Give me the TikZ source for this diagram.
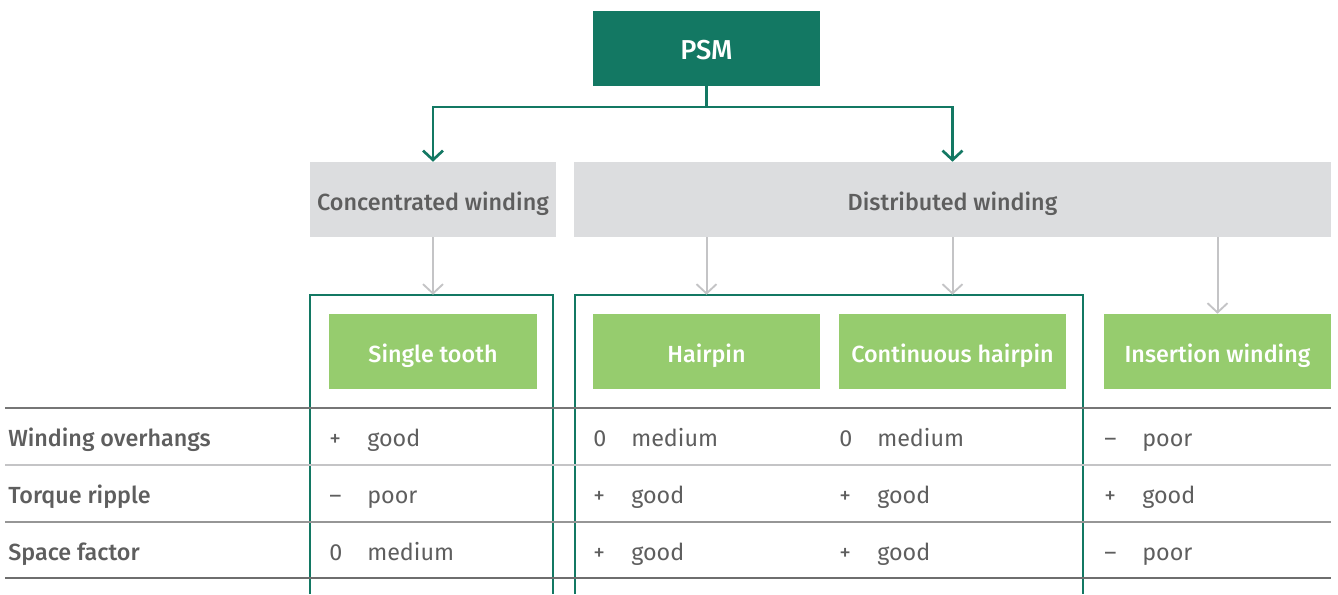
\documentclass[tikz,border=0pt]{standalone}
\usepackage{fontspec}
\setmainfont{Fira Sans}[BoldFont={Fira Sans Medium}]
\usetikzlibrary{arrows.meta}
\definecolor{dkgreen}{RGB}{19,120,99}
\definecolor{ltgreen}{RGB}{150,204,110}
\definecolor{boxgray}{RGB}{220,221,223}
\definecolor{txtgray}{RGB}{94,94,94}
\definecolor{arrgray}{RGB}{196,196,198}
\begin{document}
\begin{tikzpicture}[x=0.75pt,y=-0.75pt,font=\fontsize{17.5}{20}\selectfont,
	every node/.style={inner sep=0pt},
	top/.style={fill=dkgreen,text=white,font=\fontsize{20.5}{24}\selectfont\bfseries,minimum width=170.25pt,minimum height=56.25pt,text height=16pt,text depth=0pt},
	group/.style={fill=boxgray,text=txtgray,font=\fontsize{17.5}{20}\selectfont\bfseries,minimum height=56.25pt,text height=16pt,text depth=0pt},
	kind/.style={fill=ltgreen,text=white,font=\fontsize{17.5}{20}\selectfont\bfseries,minimum width=170.25pt,minimum height=56.25pt,text height=16pt,text depth=0pt},
	rowlabel/.style={anchor=base west,text=txtgray,font=\fontsize{17.5}{20}\selectfont\bfseries},
	cell/.style={anchor=base west,text=txtgray},
	darrow/.style={draw=dkgreen,line width=2.2pt,-{Straight Barb[length=7pt,width=15pt,line width=2pt]}},
	garrow/.style={draw=arrgray,line width=1.5pt,-{Straight Barb[length=7pt,width=15pt,line width=1.4pt]},shorten >=14.25pt},
	frame/.style={draw=dkgreen,line width=1.5pt}]
	\useasboundingbox (0,0) rectangle (1338,594);
	\node[top] (psm) at (706.5,48.5) {PSM};
	\node[group,minimum width=184.5pt] (conc) at (433,199.5) {Concentrated winding};
	\node[group,minimum width=567.75pt] (dist) at (952.5,199.5) {Distributed winding};
	\node[kind,minimum width=156pt] (tooth) at (433,351.5) {Single tooth};
	\node[kind] (hairpin) at (706.5,351.5) {Hairpin};
	\node[kind] (conthp) at (952.5,351.5) {Continuous hairpin};
	\node[kind] (insert) at (1217.5,351.5) {Insertion winding};
	% groups around the hairpin kinds
	\draw[frame] (310,594) |- (553,295) -- (553,594);
	\draw[frame] (575,594) |- (1083,295) -- (1083,594);
	% arrows
	\coordinate (split) at (706.5,107);
	\draw[darrow] (psm.south) -- (split) -| (conc.north);
	\draw[darrow] (split) -| (dist.north);
	\draw[garrow] (conc.south) -- (tooth.north);
	\draw[garrow] (dist.south -| hairpin.north) -- (hairpin.north);
	\draw[garrow] (dist.south -| conthp.north) -- (conthp.north);
	\draw[garrow,shorten >=0pt] (dist.south -| insert.north) -- (insert.north);
	% table
	\draw[txtgray!85,line width=1.1pt] (5,408) -- (1331,408);
	\draw[arrgray,line width=1.5pt] (5,465) -- (1331,465);
	\draw[txtgray!65,line width=1.1pt] (5,522) -- (1331,522);
	\draw[txtgray!90,line width=2.2pt] (5,578) -- (1331,578);
	\foreach \r/\y/\lbl/\ma/\va/\mb/\vb/\mc/\vc/\mdd/\vdd in {
		1/446/Winding overhangs/+/good/0/medium/0/medium/\textendash/poor,
		2/503/Torque ripple/\textendash/poor/+/good/+/good/+/good,
		3/560/Space factor/0/medium/+/good/+/good/\textendash/poor}{
		\node[rowlabel] (row\r) at (8,\y) {\lbl};
		\node[cell] (m\r a) at (329,\y) {\ma};
		\node[cell] (v\r a) at (367,\y) {\va};
		\node[cell] (m\r b) at (593,\y) {\mb};
		\node[cell] (v\r b) at (631,\y) {\vb};
		\node[cell] (m\r c) at (839,\y) {\mc};
		\node[cell] (v\r c) at (877,\y) {\vc};
		\node[cell] (m\r d) at (1104,\y) {\mdd};
		\node[cell] (v\r d) at (1142,\y) {\vdd};
	}
\end{tikzpicture}
\end{document}
